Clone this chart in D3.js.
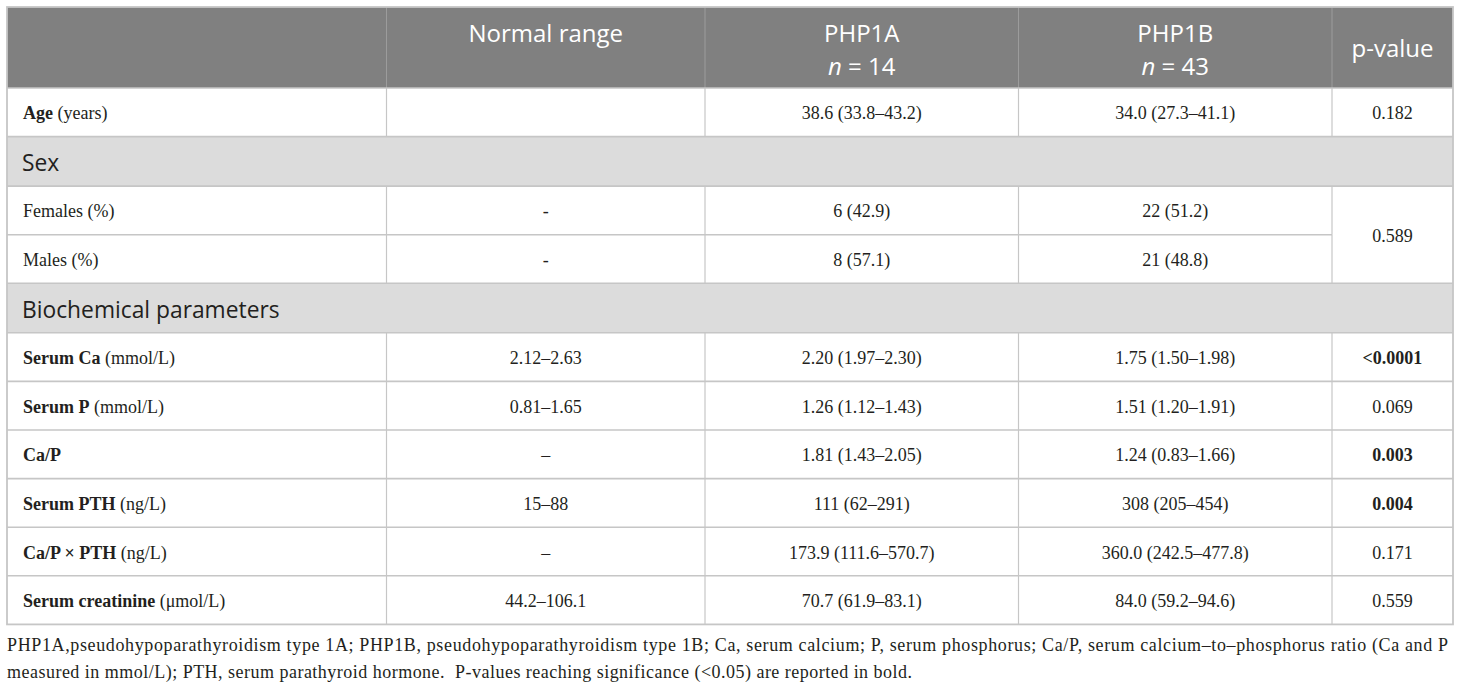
<!DOCTYPE html>
<html><head><meta charset="utf-8">
<script src="https://cdn.jsdelivr.net/npm/d3@7/dist/d3.min.js"></script>
<style>body{margin:0;background:#fff}</style>
</head><body>
<svg id="t" width="1460" height="685"></svg>
<script>
// ---- data ----
const headers = ["", "Normal range", "PHP1A", "PHP1B", "p-value"];
const headerN = [null, null, "14", "43", null];
const rowTypes = ["data","section","data","data","section","data","data","data","data","data","data"];
const labelBold = ["Age", "Sex", "", "", "Biochemical parameters", "Serum Ca", "Serum P", "Ca/P", "Serum PTH", "Ca/P × PTH", "Serum creatinine"];
const labelPlain = [" (years)", "", "Females (%)", "Males (%)", "", " (mmol/L)", " (mmol/L)", "", " (ng/L)", " (ng/L)", " (μmol/L)"];
const normalRange = ["", null, "-", "-", null, "2.12–2.63", "0.81–1.65", "–", "15–88", "–", "44.2–106.1"];
const php1a = ["38.6 (33.8–43.2)", null, "6 (42.9)", "8 (57.1)", null, "2.20 (1.97–2.30)", "1.26 (1.12–1.43)", "1.81 (1.43–2.05)", "111 (62–291)", "173.9 (111.6–570.7)", "70.7 (61.9–83.1)"];
const php1b = ["34.0 (27.3–41.1)", null, "22 (51.2)", "21 (48.8)", null, "1.75 (1.50–1.98)", "1.51 (1.20–1.91)", "1.24 (0.83–1.66)", "308 (205–454)", "360.0 (242.5–477.8)", "84.0 (59.2–94.6)"];
const pValues = ["0.182", null, "0.589", null, null, "<0.0001", "0.069", "0.003", "0.004", "0.171", "0.559"];
const pSpan = [1, 0, 2, 0, 0, 1, 1, 1, 1, 1, 1];
const pBold = [false, false, false, false, false, true, false, true, true, false, false];
const footnote = [
  "PHP1A,pseudohypoparathyroidism type 1A; PHP1B, pseudohypoparathyroidism type 1B; Ca, serum calcium; P, serum phosphorus; Ca/P, serum calcium–to–phosphorus ratio (Ca and P",
  "measured in mmol/L); PTH, serum parathyroid hormone.\u00a0\u00a0P-values reaching significance (<0.05) are reported in bold."
];

// ---- layout ----
const svg = d3.select("#t");
const edges = [7, 386.5, 705, 1018.5, 1332, 1453];
const colX = d3.scaleOrdinal().domain(d3.range(5)).range(edges.slice(0,5));
const colW = i => edges[i+1] - edges[i];
const topY = 7, headH = 81;
const hData = 48.6, hSec = 49.5;
const rowY = [];
let acc = topY + headH;
rowTypes.forEach((t,i) => { rowY.push(acc); acc += (t === "section" ? hSec : hData); });
const tableBottom = acc;
const rowH = i => rowTypes[i] === "section" ? hSec : hData;

const serif = "'Liberation Serif','Times New Roman',serif";
const sans = "'Open Sans','Noto Sans',sans-serif";
const lineCol = "#c6c6c6";

// header background
svg.append("rect").attr("x", edges[0]).attr("y", topY).attr("width", edges[5]-edges[0]).attr("height", headH).attr("fill", "#808080");
// section backgrounds
svg.selectAll("rect.sec").data(d3.range(rowTypes.length).filter(i => rowTypes[i]==="section")).join("rect")
  .attr("class","sec").attr("x", edges[0]).attr("y", i => rowY[i]).attr("width", edges[5]-edges[0]).attr("height", i => rowH(i)).attr("fill", "#dcdcdc");

// header vertical lines
svg.selectAll("line.hv").data([1,2,3,4]).join("line").attr("class","hv")
  .attr("x1", c => edges[c]).attr("x2", c => edges[c]).attr("y1", topY).attr("y2", topY+headH)
  .attr("stroke", "#9c9c9c").attr("stroke-width", 1);

// body vertical lines (skip section rows)
d3.range(rowTypes.length).forEach(i => {
  if (rowTypes[i] === "section") return;
  [1,2,3,4].forEach(c => {
    svg.append("line").attr("x1", edges[c]).attr("x2", edges[c]).attr("y1", rowY[i]).attr("y2", rowY[i]+rowH(i))
      .attr("stroke", lineCol).attr("stroke-width", 1.2);
  });
});

// horizontal lines
d3.range(rowTypes.length).forEach(i => {
  const y = rowY[i];
  const insideMerged = pSpan[i] === 0 && rowTypes[i] === "data";
  const x2 = insideMerged ? edges[4] : edges[5];
  svg.append("line").attr("x1", edges[0]).attr("x2", x2).attr("y1", y).attr("y2", y)
    .attr("stroke", lineCol).attr("stroke-width", 1.6);
});
// outer border
svg.append("rect").attr("x", edges[0]).attr("y", topY).attr("width", edges[5]-edges[0]).attr("height", tableBottom-topY)
  .attr("fill", "none").attr("stroke", lineCol).attr("stroke-width", 1.8);

// header text
const ht = svg.append("g").attr("font-family", sans).attr("font-size", 24).attr("fill", "#fff").attr("text-anchor", "middle");
headers.forEach((h,c) => {
  if (!h) return;
  const cx = colX(c) + colW(c)/2;
  const hasN = headerN[c] !== null;
  const y = (c === 4) ? topY + 50 : topY + 34.5;
  const t = ht.append("text").attr("x", cx).attr("y", y);
  t.append("tspan").attr("x", cx).text(h);
  if (hasN) {
    const l2 = t.append("tspan").attr("x", cx).attr("dy", 33);
    l2.append("tspan").attr("font-style", "italic").text("n");
    l2.append("tspan").text(" = " + headerN[c]);
  }
});

// body text
const body = svg.append("g").attr("fill", "#231f20");
d3.range(rowTypes.length).forEach(i => {
  const cy = rowY[i] + rowH(i)/2 + 1;
  if (rowTypes[i] === "section") {
    body.append("text").attr("x", 22).attr("y", cy).attr("dominant-baseline","central")
      .attr("font-family", sans).attr("font-size", 22.8).attr("fill","#231f20").text(labelBold[i]);
    return;
  }
  const t = body.append("text").attr("x", 23).attr("y", cy).attr("dominant-baseline","central")
    .attr("font-family", serif).attr("font-size", 18);
  if (labelBold[i]) t.append("tspan").attr("font-weight","bold").text(labelBold[i]);
  if (labelPlain[i]) t.append("tspan").text(labelPlain[i]);
  [[1, normalRange[i]], [2, php1a[i]], [3, php1b[i]]].forEach(([c, v]) => {
    if (!v) return;
    body.append("text").attr("x", colX(c) + colW(c)/2).attr("y", cy).attr("dominant-baseline","central")
      .attr("text-anchor","middle").attr("font-family", serif).attr("font-size", 18).text(v);
  });
  if (pValues[i]) {
    const span = pSpan[i];
    let h = 0; for (let k=0;k<span;k++) h += rowH(i+k);
    body.append("text").attr("x", colX(4) + colW(4)/2).attr("y", rowY[i] + h/2 + 1).attr("dominant-baseline","central")
      .attr("text-anchor","middle").attr("font-family", serif).attr("font-size", 18)
      .attr("font-weight", pBold[i] ? "bold" : "normal").text(pValues[i]);
  }
});

// footnote
const fn = svg.append("g").attr("font-family", serif).attr("font-size", 18).attr("fill", "#231f20");
fn.append("text").attr("x", 7).attr("y", 651).attr("textLength", 1441).attr("lengthAdjust", "spacing").text(footnote[0]);
fn.append("text").attr("x", 7).attr("y", 678).attr("textLength", 905).attr("lengthAdjust", "spacing").text(footnote[1]);
</script>
</body></html>
